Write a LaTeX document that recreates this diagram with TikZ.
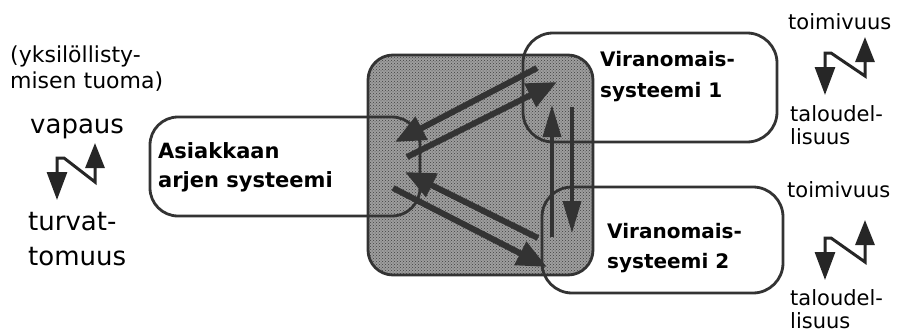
\documentclass[tikz,border=0pt]{standalone}
\usepackage{fontspec}
\setmainfont{DejaVu Sans}
\usetikzlibrary{arrows.meta,patterns}

\begin{document}
\begin{tikzpicture}[x=1pt,y=-1pt,
    sysbox/.style={draw=black!80,line width=2.8pt,rounded corners=28pt},
    txt/.style={anchor=base west,inner sep=0pt,align=left},
    flowarrow/.style={draw=black!80,line width=6pt,-{Triangle[width=25pt,length=30pt]}},
    thinarrow/.style={draw=black!80,line width=3.5pt,-{Triangle[width=18pt,length=32pt]}},
    zigzag/.style={draw=black!85,line width=3pt,line join=miter,
        {Triangle[width=20pt,length=28pt]}-{Triangle[width=19pt,length=25pt]}}]
    \useasboundingbox (0,0) rectangle (898,332);

    % shared area
    \draw [line width=2.8pt,draw=black!80,rounded corners=25pt,
        preaction={fill=black!38},pattern=crosshatch dots,pattern color=black!75]
        (368,55) rectangle (593,275);

    % systems
    \draw [sysbox] (150,117) rectangle (420,216);
    \draw [sysbox,rounded corners=30pt] (523,33) rectangle (777,142);
    \draw [sysbox,rounded corners=30pt] (542,187) rectangle (783,293);

    \node (asiakas) at (158,187) [txt,font=\bfseries\fontsize{21}{29}\selectfont]
        {Asiakkaan\\arjen systeemi};
    \node (vir1) at (600,97) [txt,font=\bfseries\fontsize{20}{31}\selectfont]
        {Viranomais-\\systeemi 1};
    \node (vir2) at (607,268) [txt,font=\bfseries\fontsize{20}{30}\selectfont]
        {Viranomais-\\systeemi 2};

    % arrows between the systems
    \coordinate (A1) at (537,68);
    \coordinate (A2) at (395,142);
    \coordinate (B1) at (407,157);
    \coordinate (B2) at (557,82);
    \coordinate (C1) at (538,238);
    \coordinate (C2) at (405,172);
    \coordinate (D1) at (393,188);
    \coordinate (D2) at (547,267);
    \coordinate (E1) at (552,237);
    \coordinate (E2) at (552,105);
    \coordinate (F1) at (572,107);
    \coordinate (F2) at (572,233);
    \draw [flowarrow] (A1) to (A2);
    \draw [flowarrow] (B1) to (B2);
    \draw [flowarrow] (C1) to (C2);
    \draw [flowarrow] (D1) to (D2);
    \draw [thinarrow] (E1) to (E2);
    \draw [thinarrow] (F1) to (F2);

    % client side trade-off
    \node (tuoma) at (10,88) [txt,font=\fontsize{22}{26}\selectfont]
        {(yksilöllisty-\\misen tuoma)};
    \node (vapaus) at (30,133) [txt,font=\fontsize{26}{30}\selectfont] {vapaus};
    \node (turva) at (28,265) [txt,font=\fontsize{26}{35}\selectfont]
        {turvat-\\tomuus};
    \draw [zigzag] (57,200) -- (57,158) -- (64,158) -- (95,182) -- (95,143);

    % authority side trade-offs
    \node (toim1) at (788,30) [txt,font=\fontsize{21}{24}\selectfont] {toimivuus};
    \node (tal1) at (790,144) [txt,font=\fontsize{21}{23}\selectfont]
        {taloudel-\\lisuus};
    \draw [zigzag] (825,95) -- (825,53) -- (831,53) -- (865,76) -- (865,37);

    \node (toim2) at (787,197) [txt,font=\fontsize{21}{24}\selectfont] {toimivuus};
    \node (tal2) at (790,328) [txt,font=\fontsize{21}{23}\selectfont]
        {taloudel-\\lisuus};
    \draw [zigzag] (825,280) -- (825,238) -- (831,238) -- (865,262) -- (865,220);
\end{tikzpicture}
\end{document}
